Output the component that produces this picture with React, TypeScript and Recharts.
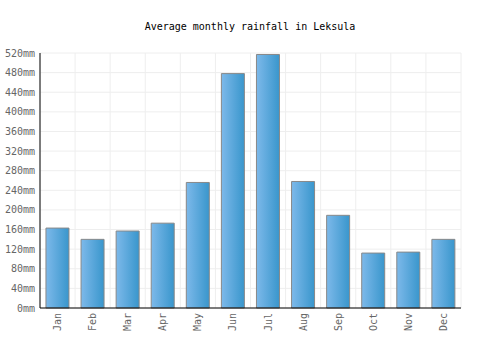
import { BarChart, Bar, XAxis, YAxis, CartesianGrid } from 'recharts'

const months = ['Jan', 'Feb', 'Mar', 'Apr', 'May', 'Jun', 'Jul', 'Aug', 'Sep', 'Oct', 'Nov', 'Dec']
const rainfall = [163, 140, 157, 173, 256, 478, 517, 258, 189, 112, 114, 140]
const yTicks = [0, 40, 80, 120, 160, 200, 240, 280, 320, 360, 400, 440, 480, 520]

const data = months.map((m, i) => ({ month: m, rain: rainfall[i] }))

const font = '"DejaVu Sans Mono", monospace'

const MonthTick = (props: any) => {
	const { x, y, payload } = props
	return (
		<text
			x={x}
			y={y}
			transform={`rotate(-90, ${x}, ${y})`}
			textAnchor="end"
			dominantBaseline="central"
			fontFamily={font}
			fontSize={10}
			fill="#666"
		>
			{payload.value}
		</text>
	)
}

// grid lines sit on the category boundaries, not the centres
const boundaryLines = ({ offset }: any) => {
	const step = offset.width / months.length
	return months.map((_, i) => offset.left + i * step).concat(offset.left + offset.width)
}

const App = () => {
	return (
		<div style={{ position: 'absolute', left: 0, top: 0, width: 500, height: 350, background: '#fff' }}>
			<div
				style={{
					position: 'absolute',
					top: 21,
					width: 500,
					textAlign: 'center',
					fontFamily: font,
					fontSize: 10,
					color: '#000',
				}}
			>
				Average monthly rainfall in Leksula
			</div>
			<BarChart
				width={500}
				height={350}
				data={data}
				barCategoryGap="17%"
				margin={{ top: 53, right: 39, left: 0, bottom: 0 }}
			>
				<defs>
					<linearGradient id="barFill" x1="0" y1="0" x2="1" y2="0">
						<stop offset="0%" stopColor="#7db9ea" />
						<stop offset="100%" stopColor="#3996cc" />
					</linearGradient>
				</defs>
				<CartesianGrid stroke="#eee" verticalCoordinatesGenerator={boundaryLines} />
				<XAxis
					dataKey="month"
					interval={0}
					height={42}
					tickLine={false}
					tickSize={0}
					tickMargin={5}
					stroke="#000"
					tick={<MonthTick />}
				/>
				<YAxis
					domain={[0, 520]}
					ticks={yTicks}
					interval={0}
					width={40}
					tickLine={false}
					tickSize={0}
					tickMargin={5}
					stroke="#000"
					tickFormatter={(v: number) => `${v}mm`}
					tick={{ fontFamily: font, fontSize: 10, fill: '#666' }}
				/>
				<Bar dataKey="rain" fill="url(#barFill)" stroke="#888" strokeWidth={1} isAnimationActive={false} />
			</BarChart>
		</div>
	)
}

export default App
